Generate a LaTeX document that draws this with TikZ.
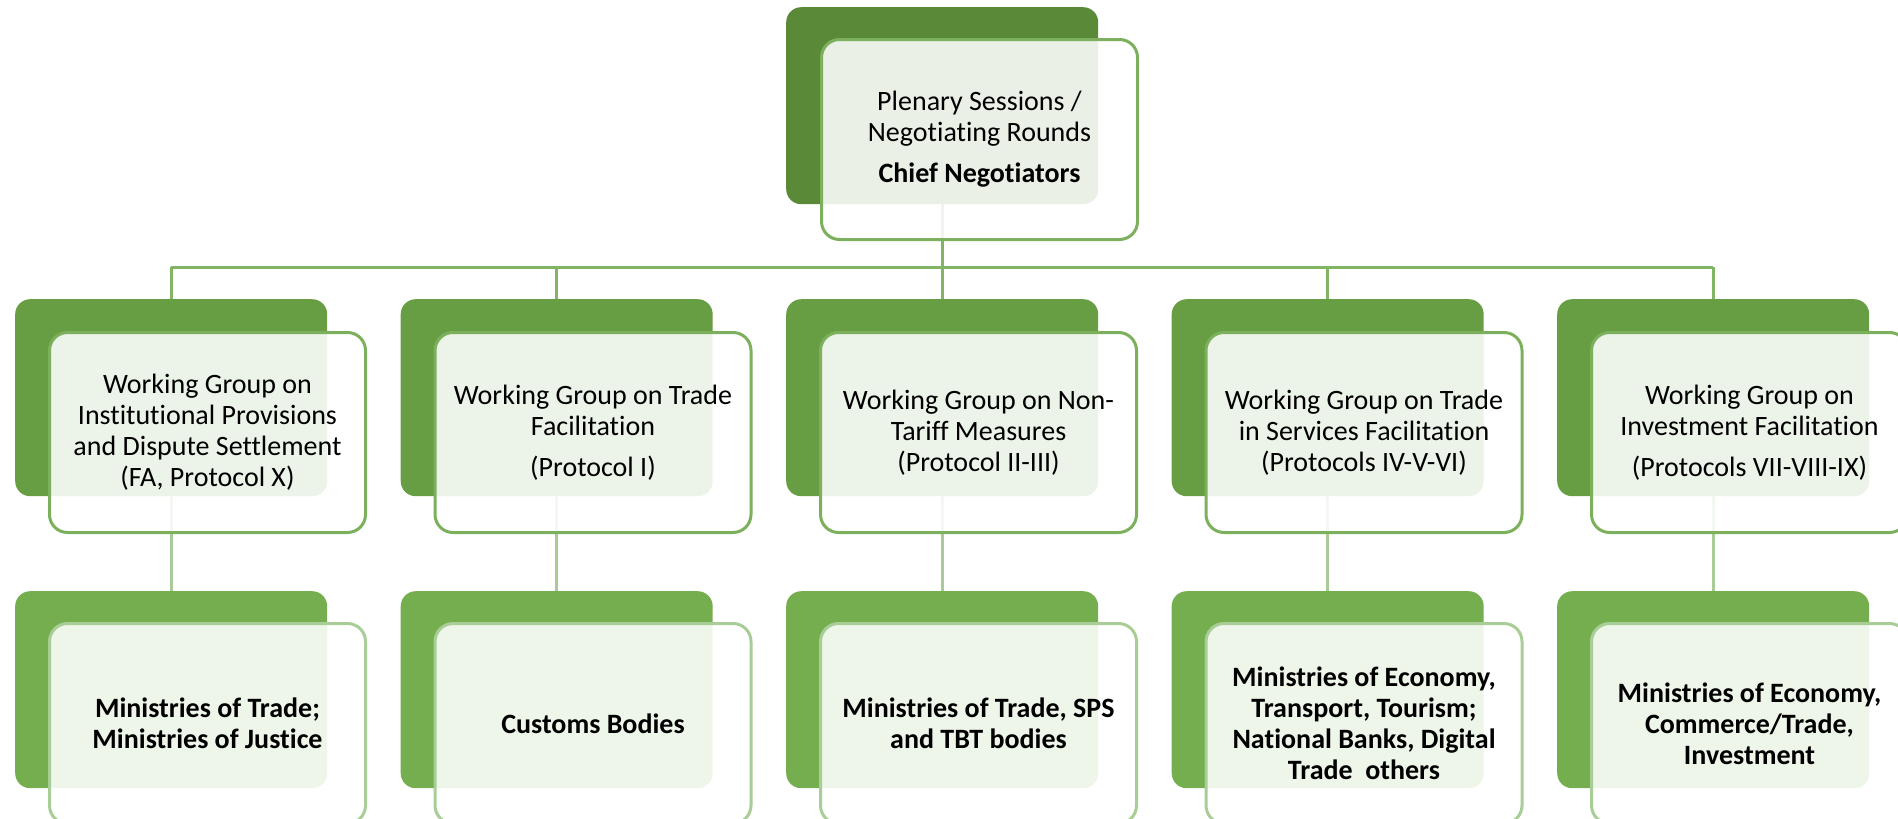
\documentclass[tikz,border=0pt]{standalone}
\usepackage{fontspec}
\setmainfont{Carlito}[RawFeature=-liga]
\definecolor{darkA}{HTML}{5A8A37}
\definecolor{darkB}{HTML}{689E43}
\definecolor{darkC}{HTML}{74AE4F}
\definecolor{lineAB}{HTML}{7DB05C}
\definecolor{lineC}{HTML}{A9CD96}
\definecolor{connA}{HTML}{82B466}
\definecolor{connB}{HTML}{A9CB98}
\tikzset{
  backbox/.style={rectangle, rounded corners=15pt, inner sep=0pt, anchor=north west,
    minimum width=312pt, minimum height=197pt},
  frontbox/.style={rectangle, rounded corners=18pt, inner sep=0pt, anchor=north west,
    minimum width=316pt, minimum height=200pt, fill=white, fill opacity=0.88,
    text opacity=1, line width=3pt, align=center, text=black,
    font=\fontsize{28}{31}\selectfont},
  boldtext/.style={font=\fontsize{28}{31}\selectfont\bfseries},
  connone/.style={draw=connA, line width=3pt},
  conntwo/.style={draw=connB, line width=3pt},
}
\begin{document}
\begin{tikzpicture}[x=1pt,y=-1pt]
\useasboundingbox (0,0) rectangle (1898,819);
\clip (0,0) rectangle (1898,819);
% back boxes
\node[backbox, fill=darkA] (d1) at (786,7) {};
\foreach \i/\x in {1/15,2/400.5,3/786,4/1171.5,5/1557}{
  \node[backbox, fill=darkB] (dB\i) at (\x,299) {};
  \node[backbox, fill=darkC] (dC\i) at (\x,591) {};
}
% connectors
\coordinate (bus) at (942,267);
\draw[connone] (d1.south) -- (d1.south |- bus);
\draw[connone] (dB1.north |- bus) -- (dB5.north |- bus);
\foreach \i in {1,...,5}{
  \draw[connone] (dB\i.north |- bus) -- (dB\i.north);
  \draw[conntwo] (dB\i.south) -- (dC\i.north);
}
% front boxes
\node[frontbox, draw=lineAB] (f1) at (820,38) {Plenary Sessions /\\ Negotiating Rounds\\[10pt] \textbf{Chief Negotiators}};
\node[frontbox, draw=lineAB] (fB1) at (48,331) {Working Group on\\ Institutional Provisions\\ and Dispute Settlement\\ (FA, Protocol X)};
\node[frontbox, draw=lineAB] (fB2) at (433.5,331) {Working Group on Trade\\ Facilitation\\[10pt] (Protocol I)};
\node[frontbox, draw=lineAB] (fB3) at (819,331) {Working Group on Non-\\ Tariff Measures\\ (Protocol II-III)};
\node[frontbox, draw=lineAB] (fB4) at (1204.5,331) {Working Group on Trade\\ in Services Facilitation\\ (Protocols IV-V-VI)};
\node[frontbox, draw=lineAB] (fB5) at (1590,331) {Working Group on\\ Investment Facilitation\\[10pt] (Protocols VII-VIII-IX)};
\node[frontbox, draw=lineC, boldtext] (fC1) at (48,622) {Ministries of Trade;\\ Ministries of Justice};
\node[frontbox, draw=lineC, boldtext] (fC2) at (433.5,622) {Customs Bodies};
\node[frontbox, draw=lineC, boldtext] (fC3) at (819,622) {Ministries of Trade, SPS\\ and TBT bodies};
\node[frontbox, draw=lineC, boldtext] (fC4) at (1204.5,622) {Ministries of Economy,\\ Transport, Tourism;\\ National Banks, Digital\\ Trade\ \ others};
\node[frontbox, draw=lineC, boldtext] (fC5) at (1590,622) {Ministries of Economy,\\ Commerce/Trade,\\ Investment};
\end{tikzpicture}
\end{document}
